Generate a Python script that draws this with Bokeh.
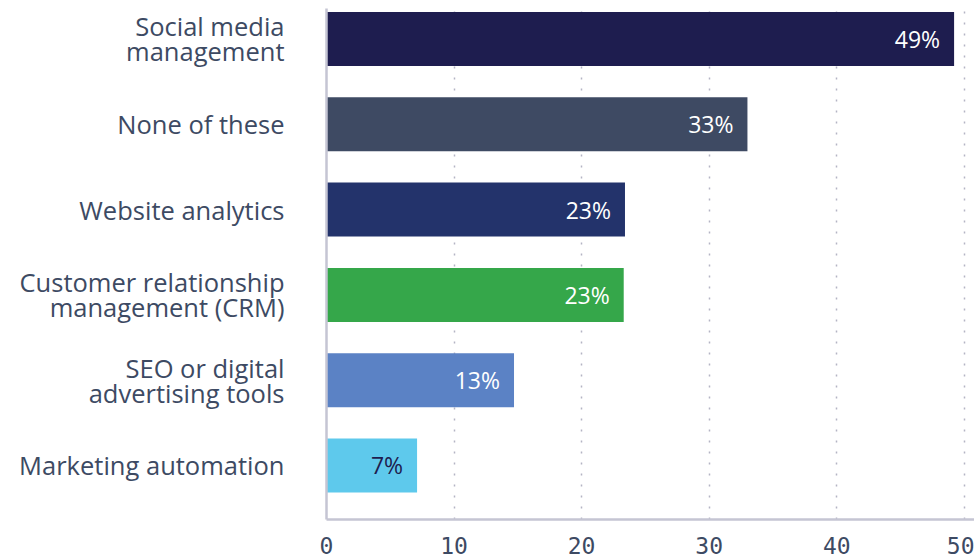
from bokeh.plotting import figure
from bokeh.models import ColumnDataSource, FixedTicker, Range1d
from bokeh.core.properties import value
from bokeh.embed import file_html
from bokeh.resources import INLINE

categories = [
    "Social media\nmanagement",
    "None of these",
    "Website analytics",
    "Customer relationship\nmanagement (CRM)",
    "SEO or digital\nadvertising tools",
    "Marketing automation",
]
values = [49.2, 33.0, 23.4, 23.3, 14.7, 7.1]
value_labels = ["49%", "33%", "23%", "23%", "13%", "7%"]
colors = ["#1e1d4f", "#3e4a63", "#23336b", "#35a74a", "#5b82c5", "#5ec9ec"]
label_colors = ["#ffffff", "#ffffff", "#ffffff", "#ffffff", "#ffffff", "#1e1d4f"]
x_ticks = [0, 10, 20, 30, 40, 50]

n = len(categories)
ypos = [n - 1 - i for i in range(n)]

SANS = "Open Sans"
MONO = "DejaVu Sans Mono"
TEXT_COLOR = "#3d4a63"
AXIS_COLOR = "#c5c5d3"
LINE_STEP = 0.293  # line spacing of category labels, in y units (~25px)

src = ColumnDataSource(dict(y=ypos, v=values, c=colors, lab=value_labels, lc=label_colors))

# each line of a category label becomes its own (invisible) tick on the y axis
tick_pos, tick_text = [], {}
for y, c in zip(ypos, categories):
    parts = c.split("\n")
    k = len(parts)
    for i, t in enumerate(parts):
        yy = round(y + (k - 1) / 2 * LINE_STEP - i * LINE_STEP, 4)
        tick_pos.append(yy)
        tick_text[yy] = t

p = figure(
    width=974, height=560,
    output_backend="svg", toolbar_location=None,
    x_range=Range1d(0, 50.8), y_range=Range1d(-0.633, 5.357),
    min_border_left=326, min_border_right=0, min_border_top=8, min_border_bottom=41,
)
p.outline_line_color = None
p.background_fill_color = "white"

p.hbar(y="y", right="v", left=0, height=0.633, fill_color="c", line_color=None, source=src)
p.text(x="v", y="y", text="lab", text_color="lc", source=src, x_offset=-14,
       text_align="right", text_baseline="middle",
       text_font=value(SANS), text_font_size="23px")

# x axis
xa = p.xaxis[0]
xa.ticker = FixedTicker(ticks=x_ticks)
xa.axis_line_color = AXIS_COLOR
xa.axis_line_width = 2.5
xa.major_tick_line_color = None
xa.minor_tick_line_color = None
xa.major_label_text_font = MONO
xa.major_label_text_font_size = "23px"
xa.major_label_text_color = TEXT_COLOR
xa.major_label_standoff = 11

# y axis
ya = p.yaxis[0]
ya.ticker = FixedTicker(ticks=tick_pos)
ya.major_label_overrides = tick_text
ya.axis_line_color = AXIS_COLOR
ya.axis_line_width = 2.5
ya.major_tick_line_color = None
ya.minor_tick_line_color = None
ya.major_label_text_font = SANS
ya.major_label_text_font_size = "25.5px"
ya.major_label_text_color = TEXT_COLOR
ya.major_label_standoff = 36

p.ygrid.grid_line_color = None
p.xgrid.grid_line_color = "#b4b4c4"
p.xgrid.grid_line_width = 1.5
p.xgrid.grid_line_dash = "2 9"

open("out.html", "w").write(file_html(p, INLINE))
